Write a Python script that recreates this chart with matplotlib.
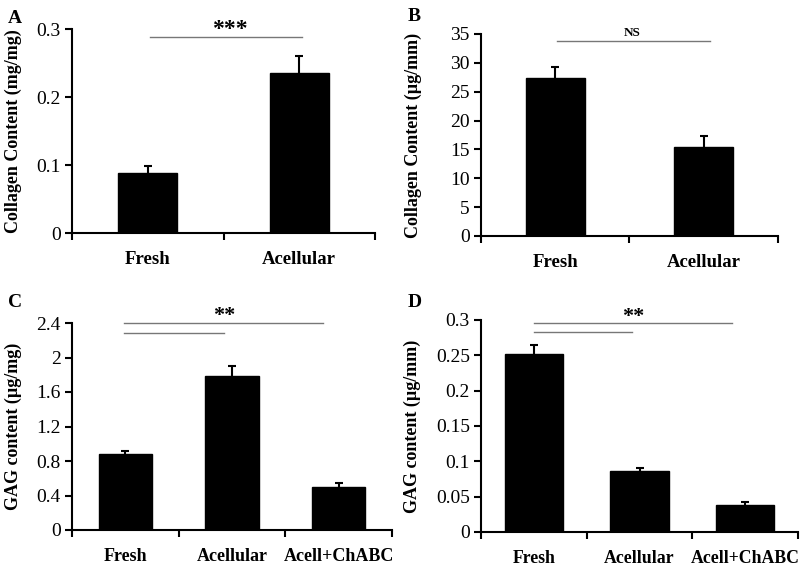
import matplotlib
matplotlib.use('Agg')
import matplotlib.pyplot as plt
import numpy as np

plt.rcParams['font.family'] = ['Liberation Serif', 'DejaVu Serif']

# panel A - collagen per dry weight
cats_2 = ["Fresh", "Acellular"]
coll_mg = [0.088, 0.236]
coll_mg_err = [0.010, 0.024]

# panel B - collagen per length
coll_mm = [27.3, 15.4]
coll_mm_err = [2.0, 2.0]

# panel C - GAG per dry weight
cats_3 = ["Fresh", "Acellular", "Acell+ChABC"]
gag_mg = [0.88, 1.79, 0.50]
gag_mg_err = [0.04, 0.11, 0.04]

# panel D - GAG per length
gag_mm = [0.252, 0.087, 0.038]
gag_mm_err = [0.012, 0.004, 0.005]

W, H = 800, 566
fig = plt.figure(figsize=(8, 5.66), dpi=100)
SIG = '#777777'


def px_axes(x0, y_top, x1, y_bot):
    return fig.add_axes([x0 / W, (H - y_bot) / H, (x1 - x0) / W, (y_bot - y_top) / H])


def bar_panel(ax, cats, vals, errs, ymax, yticks, ylabel, width, xfs=13.5):
    n = len(cats)
    x = np.arange(n)
    ax.bar(x, vals, width=width, color='black', edgecolor='black', zorder=2)
    ax.errorbar(x, vals, yerr=errs, fmt='none', ecolor='black', elinewidth=1.5,
                capsize=3, capthick=1.5, zorder=3)
    ax.set_xlim(-0.5, n - 0.5)
    ax.set_ylim(0, ymax)
    ax.set_yticks(yticks)
    ax.set_yticklabels([("%g" % t) for t in yticks], fontsize=14)
    ax.set_xticks(np.arange(n + 1) - 0.5)
    ax.set_xticklabels([])
    ax.set_xticks(x, minor=True)
    ax.set_xticklabels(cats, minor=True, fontsize=xfs, fontweight='bold')
    ax.tick_params(axis='x', which='minor', length=0, pad=13)
    ax.tick_params(axis='x', which='major', length=5, width=1.5, direction='out')
    ax.tick_params(axis='y', length=5, width=1.5, direction='out', pad=3)
    for s in ['top', 'right']:
        ax.spines[s].set_visible(False)
    for s in ['left', 'bottom']:
        ax.spines[s].set_linewidth(1.5)
    ax.set_ylabel(ylabel, fontsize=13, fontweight='bold')


# A
axA = px_axes(72, 29, 375, 233)
bar_panel(axA, cats_2, coll_mg, coll_mg_err, 0.3, [0, 0.1, 0.2, 0.3],
          "Collagen Content (mg/mg)", 0.39)
axA.plot([0.015, 1.02], [0.288, 0.288], color=SIG, lw=1, clip_on=False)
axA.text(0.54, 0.284, "***", ha='center', va='bottom', fontsize=17, fontweight='bold')
axA.yaxis.set_label_coords(-0.165, 0.5)

# B
axB = px_axes(481, 34, 778, 236)
bar_panel(axB, cats_2, coll_mm, coll_mm_err, 35, [0, 5, 10, 15, 20, 25, 30, 35],
          "Collagen Content (\u00b5g/mm)", 0.4)
axB.plot([0.012, 1.04], [33.8, 33.8], color=SIG, lw=1, clip_on=False)
axB.text(0.52, 34.1, "NS", ha='center', va='bottom', fontsize=9.5, fontweight='bold')
axB.yaxis.set_label_coords(-0.2, 0.5)

# C
axC = px_axes(72, 323, 392, 530)
bar_panel(axC, cats_3, gag_mg, gag_mg_err, 2.4, [0, 0.4, 0.8, 1.2, 1.6, 2.0, 2.4],
          "GAG content (\u00b5g/mg)", 0.5, xfs=13)
axC.plot([-0.013, 1.85], [2.4, 2.4], color=SIG, lw=1, clip_on=False)
axC.plot([-0.013, 0.925], [2.284, 2.284], color=SIG, lw=1, clip_on=False)
axC.text(0.925, 2.36, "**", ha='center', va='bottom', fontsize=16, fontweight='bold')
axC.yaxis.set_label_coords(-0.156, 0.5)

# D
axD = px_axes(481, 320, 798, 532)
bar_panel(axD, cats_3, gag_mm, gag_mm_err, 0.3, [0, 0.05, 0.1, 0.15, 0.2, 0.25, 0.3],
          "GAG content (\u00b5g/mm)", 0.55, xfs=12.8)
axD.plot([0.0, 1.875], [0.2958, 0.2958], color=SIG, lw=1, clip_on=False)
axD.plot([0.0, 0.93], [0.283, 0.283], color=SIG, lw=1, clip_on=False)
axD.text(0.94, 0.2905, "**", ha='center', va='bottom', fontsize=16, fontweight='bold')
axD.yaxis.set_label_coords(-0.19, 0.5)

# panel letters
for lab, (px, py) in zip("ABCD", [(8, 10), (408, 8), (8, 294), (408, 294)]):
    fig.text(px / W, 1 - py / H, lab, fontsize=14, fontweight='bold', va='top', ha='left')

fig.savefig("out.png", dpi=100, facecolor='white')
